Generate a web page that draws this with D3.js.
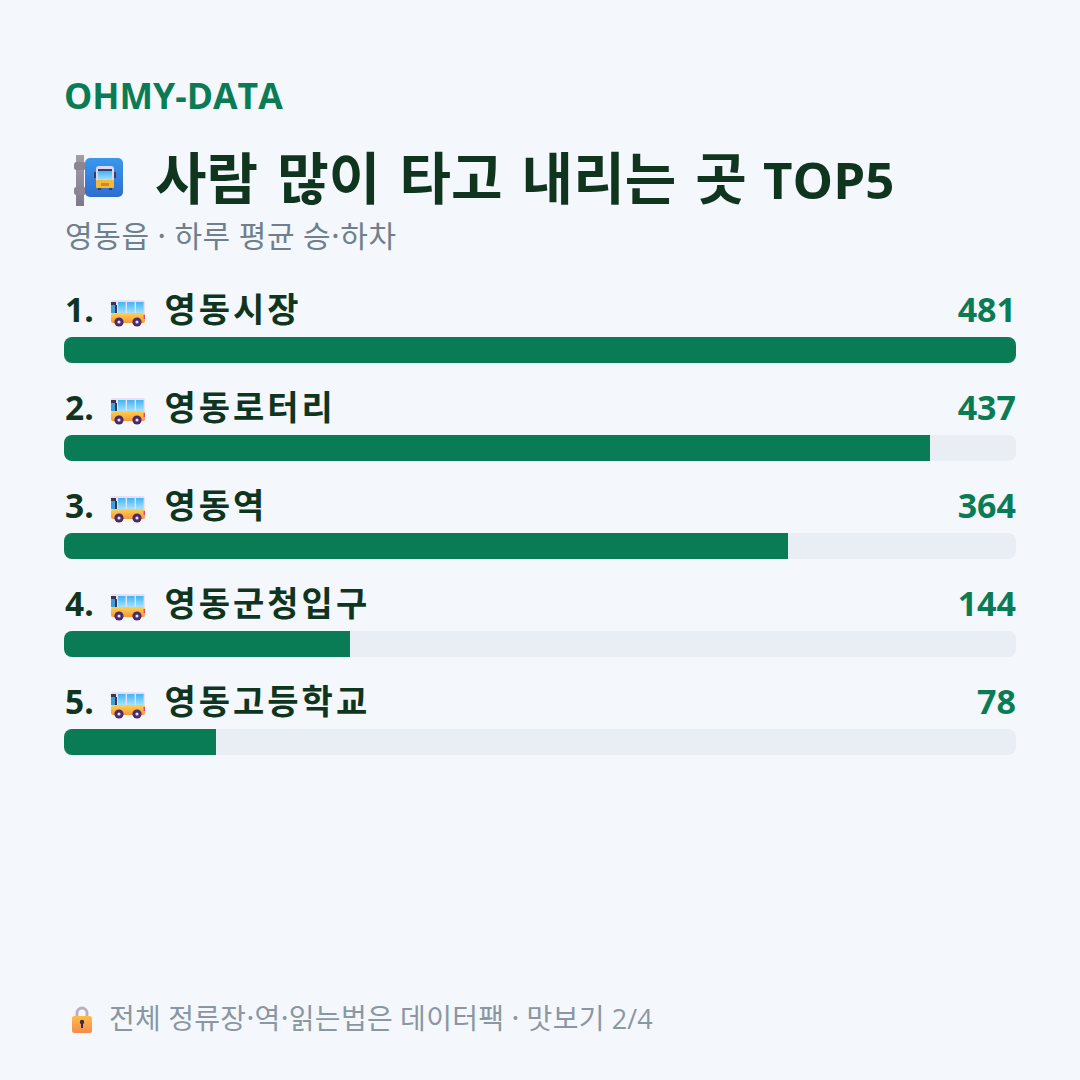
<!DOCTYPE html>
<html lang="ko">
<head>
<meta charset="utf-8">
<script src="https://cdn.jsdelivr.net/npm/d3@7/dist/d3.min.js"></script>
<style>
html,body{margin:0;padding:0;background:#f4f7fc;}
svg{display:block;}
text{font-family:"Open Sans","Noto Sans CJK KR",sans-serif;}
.ko{font-family:"Noto Sans CJK KR",sans-serif;}
</style>
</head>
<body>
<script>
// 영동읍 승·하차 상위 정류장
const stops = ["영동시장", "영동로터리", "영동역", "영동군청입구", "영동고등학교"];
const riders = [481, 437, 364, 144, 78];
const brand = "OHMY-DATA";
const title = "사람 많이 타고 내리는 곳 TOP5";
const subtitle = "영동읍 · 하루 평균 승·하차";
const footer = "전체 정류장·역·읽는법은 데이터팩 · 맛보기 2/4";

const W = 1080, H = 1080;
const GREEN = "#0a7c55", INK = "#10351f", GREY = "#6f7f8c", TRACK = "#e9edf4";

const svg = d3.select("body").append("svg").attr("width", W).attr("height", H);
svg.append("rect").attr("width", W).attr("height", H).attr("fill", "#f4f7fc");

const defs = svg.append("defs");
function grad(id, stops_) {
  const g = defs.append("linearGradient").attr("id", id).attr("x1", 0).attr("y1", 0).attr("x2", 0).attr("y2", 1);
  stops_.forEach(([o, c]) => g.append("stop").attr("offset", o).attr("stop-color", c));
}
grad("signBlue", [[0, "#3a98ec"], [1, "#2f6ccf"]]);
grad("pole", [[0, "#a39eaa"], [1, "#7f7a88"]]);
grad("glass", [[0, "#3fb4f5"], [1, "#a5e2fc"]]);
grad("busBody", [[0, "#ffd04a"], [1, "#f7983c"]]);
grad("lockBody", [[0, "#ffbe45"], [1, "#f58a4e"]]);

// 한글과 라틴 글자를 나눠 한글 구간에만 자간과 크기를 따로 준다
function mixedText(sel, str, koSize, latinSize, koSpacing, wordGap) {
  const runs = str.match(/[\uAC00-\uD7A3·]+|[^\uAC00-\uD7A3·]+/g);
  runs.forEach(run => {
    const isKo = /[\uAC00-\uD7A3·]/.test(run);
    const ts = sel.append("tspan").text(run)
      .attr("font-size", isKo ? koSize : latinSize)
      .attr("letter-spacing", isKo ? koSpacing : (/\S/.test(run) ? 0 : wordGap))
      .attr("word-spacing", wordGap);
    if (isKo) ts.attr("class", "ko");
  });
}

// 정류장 표지판 아이콘
function stopIcon(g) {
  g.append("rect").attr("x", 8).attr("y", 5).attr("width", 8).attr("height", 51).attr("fill", "url(#pole)");
  g.append("rect").attr("x", 6).attr("y", 12).attr("width", 12).attr("height", 8).attr("rx", 2.5).attr("fill", "#8b8692");
  g.append("rect").attr("x", 6).attr("y", 37).attr("width", 12).attr("height", 8).attr("rx", 2.5).attr("fill", "#8b8692");
  g.append("rect").attr("x", 17).attr("y", 8).attr("width", 38).attr("height", 39).attr("rx", 5).attr("fill", "url(#signBlue)");
  g.append("rect").attr("x", 26).attr("y", 22).attr("width", 2).attr("height", 6).attr("fill", "#3f3a60");
  g.append("rect").attr("x", 46).attr("y", 22).attr("width", 2).attr("height", 6).attr("fill", "#3f3a60");
  g.append("rect").attr("x", 30).attr("y", 37).attr("width", 3).attr("height", 3).attr("fill", "#3f3a60");
  g.append("rect").attr("x", 41).attr("y", 37).attr("width", 3).attr("height", 3).attr("fill", "#3f3a60");
  g.append("rect").attr("x", 28).attr("y", 16).attr("width", 18).attr("height", 22).attr("rx", 3).attr("fill", "#dcd6ee");
  g.append("rect").attr("x", 30).attr("y", 19).attr("width", 14).attr("height", 2).attr("fill", "#3b3a66");
  g.append("rect").attr("x", 30).attr("y", 21).attr("width", 14).attr("height", 9).attr("fill", "url(#glass)");
  g.append("rect").attr("x", 28).attr("y", 30).attr("width", 18).attr("height", 8).attr("rx", 1).attr("fill", "#f4b935");
  g.append("rect").attr("x", 33).attr("y", 33).attr("width", 8).attr("height", 3).attr("fill", "#c98c2b");
}

// 버스 아이콘
function busIcon(g) {
  g.append("rect").attr("x", 0).attr("y", 0).attr("width", 34).attr("height", 15).attr("rx", 2).attr("fill", "#e8e0f2");
  g.append("rect").attr("x", 0).attr("y", 13).attr("width", 34).attr("height", 10).attr("rx", 2).attr("fill", "url(#busBody)");
  [7, 16, 25].forEach(x => {
    g.append("rect").attr("x", x).attr("y", 2).attr("width", 7.6).attr("height", 11).attr("fill", "url(#glass)");
  });
  g.append("rect").attr("x", 0).attr("y", 2).attr("width", 5).attr("height", 3).attr("fill", "#3b3550");
  g.append("rect").attr("x", 0).attr("y", 5).attr("width", 4).attr("height", 8).attr("fill", "#39a0dc");
  g.append("rect").attr("x", 4).attr("y", 5).attr("width", 2).attr("height", 8).attr("fill", "#3b3550");
  g.append("rect").attr("x", 32.6).attr("y", 15).attr("width", 1.4).attr("height", 4).attr("fill", "#e0408a");
  [8, 26].forEach(cx => {
    g.append("circle").attr("cx", cx).attr("cy", 22).attr("r", 4.6).attr("fill", "#4b2a6b");
    g.append("circle").attr("cx", cx).attr("cy", 22).attr("r", 1.6).attr("fill", "#e6def0");
  });
}

// 자물쇠 아이콘
function lockIcon(g) {
  g.append("path").attr("d", "M7 12 V7 a5 5 0 0 1 10 0 V12").attr("fill", "none").attr("stroke", "#b9afc4").attr("stroke-width", 2.8);
  g.append("rect").attr("x", 2).attr("y", 10).attr("width", 20).attr("height", 17).attr("rx", 2.5).attr("fill", "url(#lockBody)");
  g.append("circle").attr("cx", 12).attr("cy", 16).attr("r", 2.2).attr("fill", "#3a2d4a");
  g.append("rect").attr("x", 11).attr("y", 17).attr("width", 2).attr("height", 5).attr("fill", "#3a2d4a");
}

// 머리글
svg.append("text").attr("x", 64).attr("y", 109).attr("font-size", 35.6).attr("font-weight", 700)
  .attr("fill", GREEN).text(brand);
stopIcon(svg.append("g").attr("transform", "translate(68,150)"));
svg.append("text").attr("x", 155).attr("y", 199).attr("font-weight", 700).attr("fill", INK)
  .call(mixedText, title, 56, 51, 0, 2.95);
svg.append("text").attr("x", 65).attr("y", 247).attr("fill", GREY)
  .call(mixedText, subtitle, 30, 30, 0.65, 0);

// 막대 폭은 최댓값 대비 반올림한 백분율을 따른다
const maxRiders = d3.max(riders);
const pct = riders.map(v => Math.round(v / maxRiders * 100));
const x = d3.scaleLinear().domain([0, 100]).rangeRound([0, 952]);
const y = d3.scaleBand().domain(d3.range(stops.length)).range([288, 778]).paddingInner(0).paddingOuter(0);
const BAR_TOP = 49, BAR_H = 26;

const clip = defs.append("clipPath").attr("id", "trackClip");
clip.append("rect").attr("width", x(100)).attr("height", BAR_H).attr("rx", 8);

const rows = svg.selectAll("g.row").data(stops).join("g").attr("class", "row")
  .attr("transform", (d, i) => `translate(64,${y(i)})`);

rows.append("text").attr("x", 1).attr("y", 34).attr("font-size", 33.5).attr("font-weight", 700)
  .attr("fill", INK).text((d, i) => `${i + 1}.`);
rows.each(function () { busIcon(d3.select(this).append("g").attr("transform", "translate(47,12)")); });
rows.append("text").attr("x", 100.5).attr("y", 34).attr("font-weight", 700)
  .attr("fill", INK).each(function (d) { d3.select(this).call(mixedText, d, 34, 34, 3, 0); });
rows.append("text").attr("x", 952).attr("y", 34).attr("font-size", 34).attr("font-weight", 700)
  .attr("text-anchor", "end").attr("fill", GREEN).text((d, i) => riders[i]);

const bars = rows.append("g").attr("transform", `translate(0,${BAR_TOP})`).attr("clip-path", "url(#trackClip)");
bars.append("rect").attr("width", x(100)).attr("height", BAR_H).attr("fill", TRACK);
bars.append("rect").attr("width", (d, i) => x(pct[i])).attr("height", BAR_H).attr("fill", GREEN);

// 바닥글
lockIcon(svg.append("g").attr("transform", "translate(70,1006)"));
svg.append("text").attr("x", 109).attr("y", 1029).attr("fill", "#8a97a3")
  .call(mixedText, footer, 28, 27, 0.32, 0);
</script>
</body>
</html>
